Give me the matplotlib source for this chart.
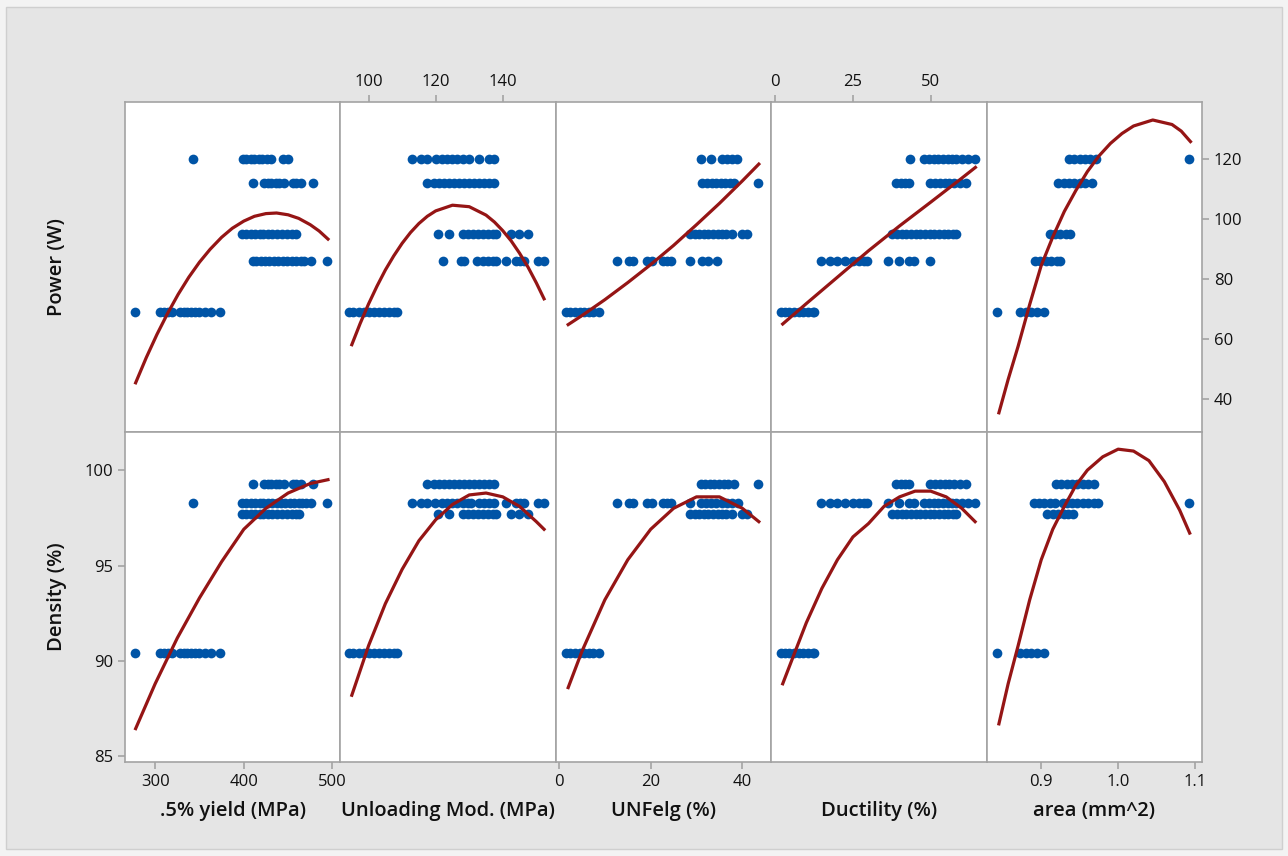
import matplotlib
matplotlib.use("Agg")
import matplotlib.pyplot as plt
from matplotlib.patches import Rectangle

plt.rcParams['font.family'] = ['Open Sans', 'DejaVu Sans']

# response levels (rows)
power_levels = [120, 112, 95, 86, 69]
density_levels = [99.3, 98.3, 97.7, 90.4]

# .5% yield (MPa)
yield_p120 = [343, 399, 403, 408, 412, 417, 421, 426, 431, 444, 450]
yield_p112 = [410, 423, 427, 431, 436, 440, 445, 455, 459, 464, 478]
yield_p95 = [398, 403, 408, 413, 418, 422, 427, 432, 437, 443, 449, 454, 459]
yield_p86 = [410, 414, 419, 424, 429, 434, 439, 444, 449, 454, 459, 464, 468, 476, 494]
yield_p69 = [277, 306, 310, 315, 319, 328, 332, 336, 341, 345, 350, 356, 363, 373]
yield_d99 = [410, 423, 427, 431, 436, 440, 445, 455, 459, 464, 478]
yield_d98 = [343, 398, 403, 408, 413, 418, 422, 427, 432, 437, 442, 447, 452, 457, 462, 466, 470, 476, 494]
yield_d97 = [398, 403, 408, 413, 418, 422, 427, 432, 437, 443, 449, 454, 459, 462]
yield_d90 = [277, 306, 310, 315, 319, 328, 332, 336, 341, 345, 350, 356, 363, 373]
yield_fit_px = [278, 290, 302, 314, 326, 338, 350, 362, 375, 387, 400, 412, 425, 437, 450, 462, 475, 485, 495]
yield_fit_p = [45.4, 53.8, 61.5, 68.5, 74.9, 80.6, 85.6, 89.9, 93.9, 96.9, 99.3, 100.9, 101.8, 102.0,
               101.4, 100.2, 98.1, 96.0, 93.3]
yield_fit_dx = [278, 300, 325, 350, 375, 400, 425, 450, 475, 495]
yield_fit_d = [86.45, 88.8, 91.2, 93.3, 95.2, 96.9, 98.0, 98.8, 99.3, 99.5]

# Unloading Mod. (MPa)
unload_p120 = [113, 115.5, 117.5, 120, 122, 123.5, 125, 126.5, 128, 130, 133, 136, 137.5]
unload_p112 = [117.5, 119.5, 121, 122.5, 124, 125.5, 127, 128.5, 130, 131.5, 133, 134.5, 136, 137.5]
unload_p95 = [120.8, 124, 128, 129.5, 131, 132.5, 134, 135.5, 137, 138, 142.4, 144.9, 147.4]
unload_p86 = [122.3, 127.5, 128.5, 132.4, 134, 135.5, 137, 138, 141, 143.9, 145.2, 146.4, 150.4, 152.3]
unload_p69 = [94.1, 95.5, 97, 98.5, 100, 101.5, 103, 104.5, 106, 107.5, 108.6]
unload_d99 = [117.5, 119.5, 121, 122.5, 124, 125.5, 127, 128.5, 130, 131.5, 133, 134.5, 136, 137.5]
unload_d98 = [113, 115.5, 117.5, 119.8, 122, 123.5, 125, 126.5, 128, 129.5, 130.5, 133, 134.5, 136,
              137.5, 141, 144, 145.2, 146.4, 150.4, 152.3]
unload_d97 = [120.8, 124, 128, 129.5, 131, 132.5, 134, 135.5, 137, 138, 142.4, 144.9, 147.4]
unload_d90 = [94.1, 95.5, 97, 98.5, 100, 101.5, 103, 104.5, 106, 107.5, 108.6]
unload_fit_px = [95, 97.5, 100, 102.5, 105, 107.5, 110, 112.5, 115, 117.5, 120, 125, 130, 135,
                 137.5, 140, 142.5, 145, 147.5, 150, 152.3]
unload_fit_p = [58.1, 65.2, 71.7, 77.6, 83.0, 87.7, 91.9, 95.5, 98.5, 100.9, 102.7, 104.6, 104.1, 101.3,
                99.0, 96.1, 92.7, 88.6, 84.0, 78.7, 73.4]
unload_fit_dx = [95, 100, 105, 110, 115, 120, 125, 130, 135, 140, 145, 150, 152.3]
unload_fit_d = [88.2, 90.8, 93.0, 94.8, 96.3, 97.4, 98.2, 98.7, 98.8, 98.6, 98.1, 97.3, 96.9]

# UNFelg (%)
unf_p120 = [30.9, 33.2, 35.5, 36.6, 37.7, 38.8]
unf_p112 = [31.3, 32.3, 33.3, 34.3, 35.3, 36.3, 37.3, 38.2, 43.4]
unf_p95 = [28.6, 29.6, 30.6, 31.6, 32.6, 33.6, 34.6, 35.5, 36.4, 37.8, 40, 41]
unf_p86 = [12.7, 15.3, 16.2, 19.2, 20.3, 22.6, 23.5, 24.5, 28.6, 31.3, 32.5, 34.5]
unf_p69 = [1.5, 2.5, 3.5, 4.5, 5.5, 6.5, 7.5, 8.8]
unf_d99 = [30.9, 31.9, 32.9, 33.9, 34.9, 35.9, 36.9, 38.2, 43.4]
unf_d98 = [12.7, 15.3, 16.2, 19.2, 20.3, 22.6, 23.5, 24.5, 28.6, 30.9, 32, 33.2, 34.3, 35.5, 36.6, 37.7, 39]
unf_d97 = [28.6, 29.6, 30.6, 31.6, 32.6, 33.6, 34.6, 35.5, 36.4, 37.8, 40, 41]
unf_d90 = [1.5, 2.5, 3.5, 4.5, 5.5, 6.5, 7.5, 8.8]
unf_fit_x = [2, 5, 10, 15, 20, 25, 30, 35, 40, 43.6]
unf_fit_p = [64.8, 67.8, 73.1, 78.8, 84.8, 91.2, 98.1, 105.2, 112.7, 118.3]
unf_fit_d = [88.6, 90.5, 93.2, 95.3, 96.9, 98.0, 98.6, 98.6, 98.0, 97.3]

# Ductility (%)
duct_p120 = [43.4, 47.9, 49.5, 51, 52.5, 54, 55.5, 57, 58.1, 60.1, 62, 64.2]
duct_p112 = [39, 40.4, 41.8, 43.1, 49.9, 51.5, 53, 54.5, 56, 57.5, 59.4, 61.5]
duct_p95 = [37.7, 39.2, 40.7, 42.2, 43.7, 45.2, 46.7, 48.2, 49.7, 51.2, 52.7, 54.2, 55.7, 57.2, 58.1]
duct_p86 = [14.6, 17.5, 20, 22.5, 25, 27, 28.5, 29.6, 36.4, 39.7, 43, 44.5, 49.9]
duct_p69 = [1.7, 3, 4.5, 6, 7.5, 9, 10.5, 12, 12.6]
duct_d99 = [39, 40.4, 41.8, 43.1, 49.9, 51.5, 53, 54.5, 56, 57.5, 59.4, 61.5]
duct_d98 = [14.6, 17.5, 20, 22.5, 25, 27, 28.5, 29.6, 36.4, 39.7, 43, 44.5, 47.9, 49.5, 51, 52.5,
            54, 55.5, 57, 58.1, 60.1, 62, 64.2]
duct_d97 = [37.7, 39.2, 40.7, 42.2, 43.7, 45.2, 46.7, 48.2, 49.7, 51.2, 52.7, 54.2, 55.7, 57.2, 58.1]
duct_d90 = [1.7, 3, 4.5, 6, 7.5, 9, 10.5, 12, 12.6]
duct_fit_px = [2.4, 10, 20, 30, 40, 50, 60, 64.4]
duct_fit_p = [65.0, 71.8, 80.6, 89.4, 97.7, 105.6, 113.6, 117.2]
duct_fit_dx = [2.4, 5, 10, 15, 20, 25, 30, 35, 40, 45, 50, 55, 60, 64.3]
duct_fit_d = [88.8, 89.9, 92.0, 93.8, 95.3, 96.5, 97.2, 98.1, 98.6, 98.9, 98.9, 98.6, 98.0, 97.3]

# area (mm^2)
area_p120 = [0.936, 0.943, 0.950, 0.957, 0.964, 0.971, 1.092]
area_p112 = [0.922, 0.929, 0.936, 0.943, 0.950, 0.957, 0.966]
area_p95 = [0.911, 0.918, 0.925, 0.932, 0.938]
area_p86 = [0.892, 0.899, 0.906, 0.913, 0.920, 0.925]
area_p69 = [0.843, 0.873, 0.880, 0.887, 0.894, 0.903]
area_d99 = [0.919, 0.926, 0.933, 0.940, 0.947, 0.954, 0.961, 0.968]
area_d98 = [0.89, 0.897, 0.904, 0.911, 0.918, 0.928, 0.933, 0.940, 0.947, 0.954, 0.961, 0.968, 0.974, 1.092]
area_d97 = [0.908, 0.915, 0.922, 0.929, 0.935, 0.941]
area_d90 = [0.843, 0.873, 0.880, 0.887, 0.894, 0.903]
area_fit_px = [0.845, 0.857, 0.87, 0.885, 0.9, 0.915, 0.93, 0.945, 0.96, 0.975, 0.99, 1.005, 1.02,
               1.045, 1.07, 1.082, 1.094]
area_fit_p = [35.4, 46.5, 57.6, 71.5, 84.5, 94.0, 102.5, 109.5, 115.8, 121.0, 125.2, 128.5, 131.0,
              133.0, 131.5, 129.3, 125.8]
area_fit_dx = [0.845, 0.857, 0.87, 0.885, 0.9, 0.915, 0.93, 0.945, 0.96, 0.98, 1.0, 1.02, 1.04,
               1.06, 1.08, 1.093]
area_fit_d = [86.7, 88.8, 90.8, 93.2, 95.3, 96.9, 98.1, 99.2, 100.0, 100.7, 101.1, 101.0, 100.5,
              99.4, 97.9, 96.7]

x_labels = ['.5% yield (MPa)', 'Unloading Mod. (MPa)', 'UNFelg (%)', 'Ductility (%)', 'area (mm^2)']
y_labels = ['Power (W)', 'Density (%)']

power_groups = [
    [yield_p120, yield_p112, yield_p95, yield_p86, yield_p69],
    [unload_p120, unload_p112, unload_p95, unload_p86, unload_p69],
    [unf_p120, unf_p112, unf_p95, unf_p86, unf_p69],
    [duct_p120, duct_p112, duct_p95, duct_p86, duct_p69],
    [area_p120, area_p112, area_p95, area_p86, area_p69],
]
density_groups = [
    [yield_d99, yield_d98, yield_d97, yield_d90],
    [unload_d99, unload_d98, unload_d97, unload_d90],
    [unf_d99, unf_d98, unf_d97, unf_d90],
    [duct_d99, duct_d98, duct_d97, duct_d90],
    [area_d99, area_d98, area_d97, area_d90],
]
power_fits = [(yield_fit_px, yield_fit_p), (unload_fit_px, unload_fit_p), (unf_fit_x, unf_fit_p),
              (duct_fit_px, duct_fit_p), (area_fit_px, area_fit_p)]
density_fits = [(yield_fit_dx, yield_fit_d), (unload_fit_dx, unload_fit_d), (unf_fit_x, unf_fit_d),
                (duct_fit_dx, duct_fit_d), (area_fit_dx, area_fit_d)]

xlims = [(266, 509), (91.6, 155.8), (-0.7, 46.3), (-1.3, 68), (0.829, 1.109)]

dot_color = '#0054a6'
fit_color = '#951515'
frame_color = '#a3a3a3'

fig = plt.figure(figsize=(12.88, 8.56), dpi=100)
fig.patch.set_facecolor('#f3f3f3')
fig.patches.append(Rectangle((6 / 1288, 7 / 856), 1276 / 1288, 842 / 856, transform=fig.transFigure,
                             facecolor='#e5e5e5', edgecolor='#cfcfcf', linewidth=1, zorder=-10))

gs = fig.add_gridspec(2, 5, left=125 / 1288, right=1202 / 1288, top=1 - 102 / 856, bottom=1 - 762 / 856,
                      wspace=0, hspace=0)
axes = [[None] * 5 for _ in range(2)]
for r in range(2):
    for c in range(5):
        ax = fig.add_subplot(gs[r, c])
        axes[r][c] = ax
        ax.set_facecolor('white')
        for s in ax.spines.values():
            s.set_color(frame_color)
            s.set_linewidth(1.2)
        ax.set_xlim(*xlims[c])
        if r == 0:
            ax.set_ylim(29, 139)
            for lvl, xs in zip(power_levels, power_groups[c]):
                ax.plot(xs, [lvl] * len(xs), 'o', color=dot_color, ms=7, mew=0, zorder=3)
            fx, fy = power_fits[c]
        else:
            ax.set_ylim(84.7, 102)
            for lvl, xs in zip(density_levels, density_groups[c]):
                ax.plot(xs, [lvl] * len(xs), 'o', color=dot_color, ms=7, mew=0, zorder=3)
            fx, fy = density_fits[c]
        ax.plot(fx, fy, color=fit_color, lw=2.3, zorder=4)
        ax.tick_params(left=False, right=False, top=False, bottom=False,
                       labelleft=False, labelright=False, labeltop=False, labelbottom=False,
                       colors=frame_color, labelcolor='#111111', labelsize=12, length=5, width=1.2)

# visible scales, Minitab style
axes[0][1].set_xticks([100, 120, 140])
axes[0][1].tick_params(top=True, labeltop=True)
axes[0][3].set_xticks([0, 25, 50])
axes[0][3].tick_params(top=True, labeltop=True)
axes[1][0].set_xticks([300, 400, 500])
axes[1][0].tick_params(bottom=True, labelbottom=True)
axes[1][2].set_xticks([0, 20, 40])
axes[1][2].tick_params(bottom=True, labelbottom=True)
axes[1][4].set_xticks([0.9, 1.0, 1.1])
axes[1][4].set_xticklabels(['0.9', '1.0', '1.1'])
axes[1][4].tick_params(bottom=True, labelbottom=True)
axes[0][4].set_yticks([40, 60, 80, 100, 120])
axes[0][4].tick_params(right=True, labelright=True)
axes[1][0].set_yticks([85, 90, 95, 100])
axes[1][0].tick_params(left=True, labelleft=True)

for c, lab in enumerate(x_labels):
    pos = axes[1][c].get_position()
    fig.text((pos.x0 + pos.x1) / 2, 1 - 811 / 856, lab, ha='center', va='center',
             fontsize=14.5, fontweight='semibold', color='#111111')
for r, lab in enumerate(y_labels):
    pos = axes[r][0].get_position()
    fig.text(57 / 1288, (pos.y0 + pos.y1) / 2, lab, ha='center', va='center', rotation=90,
             fontsize=14.5, fontweight='semibold', color='#111111')

fig.savefig('out.png', dpi=100, facecolor=fig.get_facecolor())
